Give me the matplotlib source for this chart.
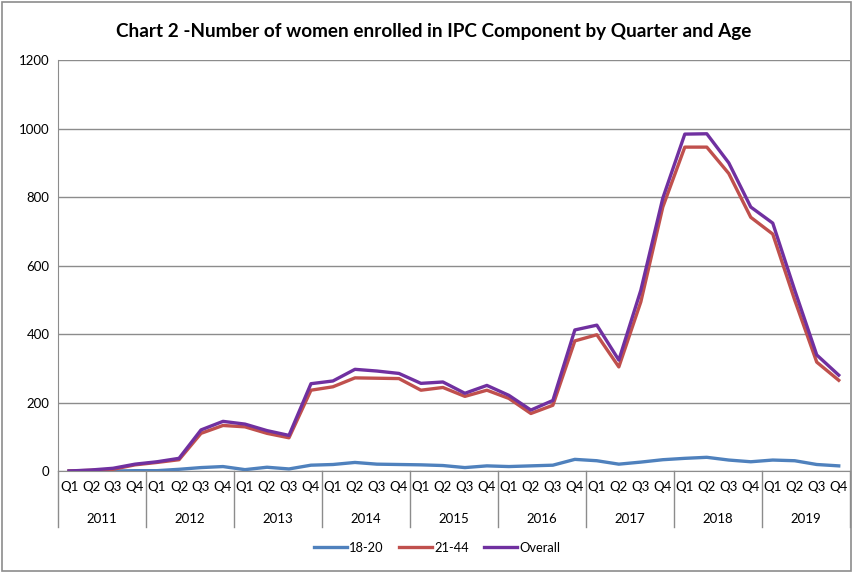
import numpy as np
import matplotlib
matplotlib.use("Agg")
import matplotlib.pyplot as plt
from matplotlib.lines import Line2D
from matplotlib.patches import Rectangle

plt.rcParams["font.family"] = ["Lato", "DejaVu Sans"]

YEARS = ["2011", "2012", "2013", "2014", "2015", "2016", "2017", "2018", "2019"]
QUARTERS = ["Q1", "Q2", "Q3", "Q4"]

age_18_20 = [0, 0, 0, 1, 1, 5, 10, 13, 4, 11, 6, 17,
             19, 25, 20, 19, 18, 16, 10, 15, 13, 15, 17, 34,
             30, 20, 26, 33, 37, 40, 32, 27, 32, 30, 19, 15]
age_21_44 = [0, 2, 5, 18, 25, 33, 110, 133, 129, 110, 97, 236,
             246, 272, 271, 270, 236, 244, 218, 236, 212, 168, 192, 380,
             398, 304, 494, 771, 946, 946, 869, 741, 692, 499, 318, 265]
overall = [0, 3, 8, 20, 27, 37, 120, 145, 137, 118, 104, 255,
           263, 297, 292, 285, 256, 260, 227, 250, 221, 178, 206, 412,
           426, 324, 528, 797, 984, 985, 900, 771, 724, 528, 339, 280]

SERIES = ["18-20", "21-44", "Overall"]
COLORS = ["#4F81BD", "#C0504D", "#7030A0"]

fig = plt.figure(figsize=(8.54, 5.73), dpi=100)
fig.patches.append(Rectangle((0.002, 0.004), 0.995, 0.992, transform=fig.transFigure,
                             fill=False, edgecolor="#8c8c8c", lw=1.2))
ax = fig.add_axes([0.068, 0.178, 0.927, 0.717])

x = np.arange(len(overall))
for vals, col, lab in zip([age_18_20, age_21_44, overall], COLORS, SERIES):
    ax.plot(x, vals, color=col, lw=2.4, label=lab, solid_joinstyle="round")

ax.set_xlim(-0.5, len(x) - 0.5)
ax.set_ylim(0, 1200)
ax.set_yticks(range(0, 1201, 200))
ax.yaxis.grid(True, color="#8c8c8c", lw=1)
ax.set_axisbelow(True)
ax.tick_params(axis="y", length=0, labelsize=9.5, pad=6)
for s in ["top", "right"]:
    ax.spines[s].set_visible(False)
ax.spines["left"].set_color("#8c8c8c")
ax.spines["bottom"].set_color("#8c8c8c")

# two-level category axis
ax.set_xticks(x)
ax.set_xticklabels(QUARTERS * len(YEARS), fontsize=9.5)
ax.tick_params(axis="x", length=0, pad=7)
trans = ax.get_xaxis_transform()
for k in range(len(YEARS) + 1):
    ax.plot([k * 4 - 0.5] * 2, [0, -0.136], transform=trans, color="#8c8c8c",
            lw=1, clip_on=False)
for k, yr in enumerate(YEARS):
    ax.text(k * 4 + 1.5, -0.117, yr, transform=trans, ha="center", va="center",
            fontsize=9.5)

fig.text(0.508, 0.945, "Chart 2 -Number of women enrolled in IPC Component by Quarter and Age",
         ha="center", va="center", fontsize=13.6, fontweight="bold")

handles = [Line2D([], [], color=c, lw=2.4) for c in COLORS]
fig.legend(handles, SERIES, loc="center", bbox_to_anchor=(0.512, 0.044), ncol=3,
           frameon=False, fontsize=9.3, handlelength=2.5, handletextpad=0.2,
           columnspacing=1.2)

fig.savefig("out.png", dpi=100)
